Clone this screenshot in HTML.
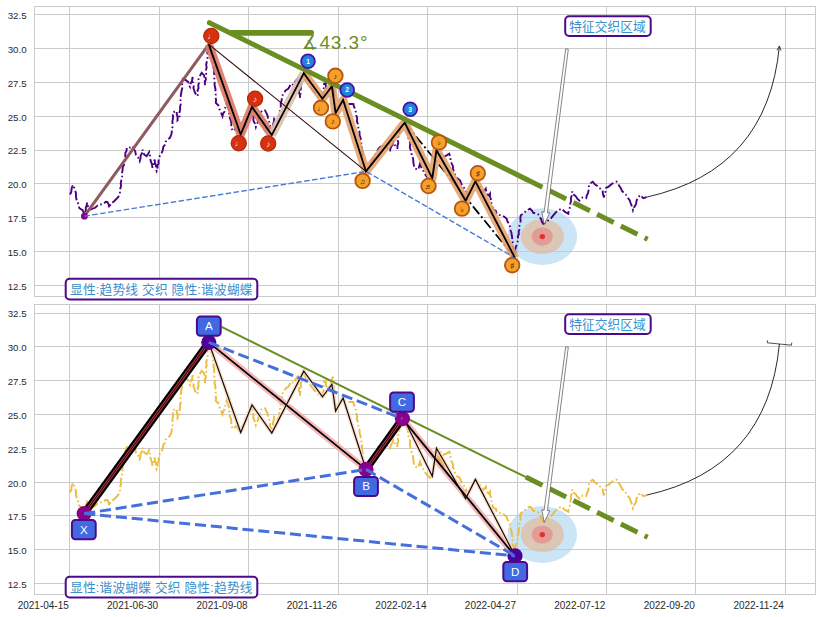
<!DOCTYPE html>
<html><head><meta charset="utf-8"><title>chart</title>
<style>html,body{margin:0;padding:0;background:#fff}svg{display:block}</style></head>
<body>
<svg width="822" height="617" viewBox="0 0 822 617">
<rect width="822" height="617" fill="#fff"/>
<g fill="none" stroke="#cbcbcb" stroke-width="1" shape-rendering="crispEdges">
<path d="M69.5 6.5V296.5M159.5 6.5V296.5M248.5 6.5V296.5M338.5 6.5V296.5M427.5 6.5V296.5M517.5 6.5V296.5M606.5 6.5V296.5M695.5 6.5V296.5M785.5 6.5V296.5M34.5 285.5H815.5M34.5 251.5H815.5M34.5 217.5H815.5M34.5 183.5H815.5M34.5 150H815.5M34.5 116.5H815.5M34.5 82.5H815.5M34.5 48.5H815.5M34.5 14.5H815.5"/>
<rect x="34.5" y="6.5" width="781" height="290" stroke-width="1"/>
</g>
<g font-family="'Liberation Sans', sans-serif" font-size="9.7px" fill="#2a2a2a" text-anchor="end">
<text x="26.6" y="289.9">12.5</text>
<text x="26.6" y="255.9">15.0</text>
<text x="26.6" y="221.9">17.5</text>
<text x="26.6" y="187.9">20.0</text>
<text x="26.6" y="154.4">22.5</text>
<text x="26.6" y="120.9">25.0</text>
<text x="26.6" y="86.9">27.5</text>
<text x="26.6" y="52.9">30.0</text>
<text x="26.6" y="18.9">32.5</text>
</g>
<ellipse cx="542.3" cy="236.6" rx="34.8" ry="28.3" fill="#a8d2f0" fill-opacity=".6"/>
<ellipse cx="542.3" cy="236.6" rx="21.6" ry="17.5" fill="#e8b48c" fill-opacity=".6"/>
<ellipse cx="542.3" cy="236.6" rx="10.6" ry="9.2" fill="#e87878" fill-opacity=".55"/>
<circle cx="542.3" cy="236.6" r="2.7" fill="#e03030"/>
<polyline points="70,194.5 71.3,192 71.7,188 73,185 74.2,187.5 75,190.3 76,193.1 75.9,196.6 76.7,200.3 77.9,202.1 78.3,205.3 79.4,208.2 82.6,210.2 84,213.1 84.4,216.2 84.7,212.9 85.8,210.5 85.8,207.7 86.7,205.4 87.1,202.7 88.2,206.6 90.2,209.7 95,207.8 97.3,205.7 100,204.5 103,204.1 105.8,201.7 107.5,202 108.8,204.9 109.2,207.8 110.8,203.7 113.5,201.8 115.8,199.5 118.3,197 119.6,194.7 120,192 120,189.5 121.1,185.8 120.7,183.6 121.3,180.3 122.2,177 121.9,173.7 122.5,170.3 122.8,167 123.9,165.3 124.2,162 124.5,158.8 125.4,156 125.3,153 126.6,150.7 126.7,147.8 130.3,147.5 132.8,146.3 133.4,148.9 135.2,151.1 135.8,154.5 138.3,157.8 139.7,161.2 140.6,158.2 140.6,155.4 142.1,152.9 142.5,149.5 143.1,152.5 144.2,154.5 146.7,156.2 149.2,152 149.9,155.5 150,158 150.8,161.2 151.9,164.2 152.5,167.8 153.4,165.2 153.7,162.2 154.7,159.5 154.9,163 156,165.3 155.7,168.1 156.7,171.2 157.7,169 157.4,165.4 158.6,163.8 158.5,160.8 159.2,157.8 160.1,154.9 161.7,152.8 162.7,150.5 163.3,147 165.1,144.7 165.7,141.7 167.5,139.5 170,137.8 171.3,134.5 171.8,132.1 171.7,128.8 172.6,126.8 172.5,123.7 172.4,121.2 173.1,117.4 172.8,114.8 173.3,112 176.7,111.2 176.7,114.1 177.6,116.8 177.5,120.3 179,118.7 179.7,115.3 179.5,112.5 180.2,109.1 180,107.1 180.7,104.4 180.3,101.1 181,98.4 180.8,95.3 181.7,90.3 182.5,87.2 181.9,84.8 183.1,82.2 182.9,79 185.8,80.2 188.3,82 188.8,85.2 190,87 190.5,83.8 192.1,80.6 192.5,77 193.1,79.7 192.8,82 193.9,85.4 193.4,88 194.2,90.3 195.5,93.7 197.5,96.2 198.2,93.1 197.6,90.2 198.6,88 198.2,85.4 199,82.7 198.5,79.4 199.2,77 201.7,72.8 204.2,75.3 204.2,78.9 205,81.6 205,85.3 204.8,82.3 205.9,79.4 205.2,76.2 206.2,74 205.6,71 206.6,68 206.2,64.5 206.7,62 207.5,59.1 207.5,55.3 207.3,52.2 208.4,49.9 208.2,46.8 208.8,44.4 209.3,47.5 210.5,50.1 210.7,53.7 212.1,55.3 212.5,58.7 212.5,61.3 213.8,64.5 213.5,67.8 214.2,70.3 214.1,73.1 214.6,76.2 214.3,78.3 214.9,81.5 214.5,84.4 215,87 215.6,90 214.9,92 215.7,94.5 215.4,97.5 216.1,99.8 215.8,102.8 218.3,105.3 219.3,109 220.8,112 222.5,116.2 223,113.7 224.5,111.7 225,108.7 225.7,106.1 226.7,102.8 228.3,107 229,109.5 228.9,112.9 230.1,114.9 229.8,118.1 230.8,120.3 231.4,123.2 231.2,126.2 231.7,128.7 233,131 236,128 238,131 240.8,134.5 241.5,131.2 243,128 244.9,125.9 246,122 248,118 248.7,115.1 250,112 251.4,110.2 252,107 252.1,109.6 252.9,112.5 252.4,114.6 253.5,117.1 253.3,120.3 254.8,123.3 255.8,127 256.7,124 258,122 258.6,118.6 260,115 260.9,112.1 262.7,110.2 265,110.3 266.7,113.7 267.7,116.1 268,119.2 269.2,122 270.2,124.9 270,128.2 271.3,130.8 271.7,134 271.7,130.5 273.1,128.5 272.9,124.8 273.9,121.9 274.2,118.7 276.7,120.3 278.2,124 278.3,120.4 279.6,118.2 279.2,115.2 280,112 280,109.1 280.9,106.1 280.7,103.4 281.8,99.9 281.7,97 283.3,93.7 285.8,90.3 288.3,88.7 289.7,86.3 290.8,83.7 294,85.2 295.3,81.5 297.5,78.7 297.6,81.6 298.7,83.7 298.1,86.5 299.2,89.3 298.9,92.3 299.9,95.1 300,97.8 300.6,94.6 300.1,91.7 300.8,89.2 300.8,86.2 301.5,82.8 301.3,79 302,76 303.8,73.1 304.5,76.9 306,80 308,84 311,88 314,92 317,95 320,98 322.5,99 322.4,96 323.6,92.8 323,90.2 324.2,86.9 324,84 325.8,82.8 325.8,86 326.7,89.5 329,90 331,86 331.6,81.7 333,78.7 332.8,81.4 333.7,84.6 333.4,87.5 334,90 333.9,93.1 334.6,95.4 334.2,99.1 335.3,101 334.7,104.7 335.5,107.4 335.2,109.7 335.6,113 337,108 340,104 343.1,100 345,103 348,104 351,104 353.4,104 354,106.8 355.3,109.2 355.8,112 356.1,114.8 357.2,118.3 356.8,120.8 358,124.4 358.3,127 358.4,129.6 359.6,132.2 359.5,135.2 360.5,137.8 360.8,140.3 361.4,142.9 361.1,145.7 362.1,147.9 361.8,150.6 362.5,153.7 363.3,156.6 362.8,159.6 363.9,162.2 364,165 365.3,168.3 365.7,171.4 368,168 369.9,166.2 371,163 372.1,160 374,158 375.1,154.8 377,152 378.4,148.7 380.5,146.6 384,146 386.7,147.8 390,150.3 390.9,147.2 392.5,144.5 393.3,142 394.4,144.8 396.3,146.6 397.5,148.7 397.4,145.9 398.3,142.9 397.8,140.4 398.3,137 398.8,133.6 400,130 400.8,127 402,124 404.7,122.6 406.1,125 407,128 407.3,131 408.3,133.8 408.2,137.4 409.2,140.3 410.2,143.5 409.8,147.3 410.8,150.3 411.6,153.2 411.6,155.9 413.1,158.5 413.3,162 413.9,165.5 415,168.7 418.3,169.5 419,166.9 420,163.7 421.2,167.2 423,170 424.2,173.1 425.8,175.3 428,178 430,180 432.2,178 432.3,175.5 433.2,172.4 433,169.7 433.9,167.9 434,165 435,162.4 434.8,159.5 436,155.9 435.5,152.9 436.5,150.2 440,152 441.1,154.7 443,157 446.7,155.3 449.2,153.7 450.5,157 450.5,161 451.7,163.7 452.9,165.9 453,169.4 454.2,172 455.3,175.1 456.7,177.8 460,180.3 461.4,184.1 463.3,187 465.8,190.3 466.7,193.4 468,196 470,192 471.9,189.4 473,186 475.3,181.5 478,184 479.9,186.8 481,190 483.3,192 485.8,188.7 486.2,191.9 487.4,194.2 487.5,197 490,193.7 490,196.7 490.9,199.3 490.8,202 492,203.9 492.5,207 493.5,210.2 495.7,210.5 496.7,213.7 499.1,214.9 501.7,215.3 504.3,216.7 506.7,218.7 507.6,221.8 509.2,224.1 510,227 510.2,229.6 511.4,232.7 511.7,235.3 512.2,237.6 511.9,240.9 513.1,243 512.7,245.9 513.3,248.7 514,251.8 513.5,254.7 514.4,257.8 514.3,255.4 515.4,252.3 515.2,250 515.8,247 516.8,244.7 517.5,242 518.3,239.3 517.8,236.2 518.8,234.4 518.7,231.3 519.7,229.2 519.4,225.9 520,223.7 520.7,220.8 520.3,218.3 520.8,215.3 524.2,212.8 526.7,210.3 530,208.7 532,210.6 533.3,212.8 535.9,213.4 538.3,214.5 539.3,217 541.2,219 541.8,221.5 543.3,223.7 546,222.4 548.3,220.3 551,218.2 553.3,215.3 555.6,212.6 558.3,210.3 561.7,208.7 565,212 568.3,213.7 568.7,210.5 570.1,206.9 570.3,203.6 571.1,200.7 570.9,197.9 572.1,194.9 572.2,191.5 573.7,194.6 575.8,196.3 577.5,198.9 579.5,200.6 582.5,197.5 586.2,198.2 586.8,195.6 588,193.2 588.6,190.2 588.9,186.5 589.8,183.6 592.8,181.7 594.7,184.2 597,185.7 598.9,187.8 602.6,190.2 603,194.4 604,197.5 604.3,194.2 605.7,191.4 606,187.8 608.7,186.6 612.3,183.6 616.6,181.7 619,185.4 620.8,188.2 622,190.9 625.7,194.5 628.1,198.2 629.8,200.5 630.6,203 632.2,206.8 633,210.3 634.2,207.2 636,204.2 636.6,200.6 637.9,197.5 640.3,195.1 643.3,198.2 646.7,197.1" fill="none" stroke="#4b0082" stroke-width="1.9" stroke-dasharray="9.6 2.6 1.6 2.6"/>
<line x1="84.4" y1="216.2" x2="208.8" y2="44.4" stroke="#8f5a60" stroke-width="3.05" stroke-linecap="round"/>
<circle cx="84.4" cy="216.2" r="3.4" fill="#8b008b"/>
<line x1="404.7" y1="122.6" x2="515" y2="257.9" stroke="#000" stroke-width="1.8" stroke-dasharray="10 3 2 3"/>
<polyline points="208.8,44.4 240.7,134.5 252,106.9 271.8,135.1" fill="none" stroke="#dc7a66" stroke-opacity=".92" stroke-width="8.5" stroke-linejoin="round" stroke-linecap="butt"/>
<polyline points="271.8,135.1 303.8,73.1" fill="none" stroke="#dcc0ac" stroke-opacity=".9" stroke-width="8.5" stroke-linejoin="round"/>
<polyline points="303.8,73.1 322.5,98.8 331.9,86.3 335.6,113.1 343.1,100 366,171.4 404.7,122.6 432.3,178.2 436.5,150.2 465.6,200.8 475.4,181.4 515,257.9" fill="none" stroke="#e5a26e" stroke-opacity=".9" stroke-width="8.5" stroke-linejoin="round"/>
<line x1="208.8" y1="44.4" x2="366" y2="171.4" stroke="#300808" stroke-width="1.1"/>
<polyline points="84.4,216.2 366,171.4 515,257.9" fill="none" stroke="#457ad0" stroke-width="1.35" stroke-dasharray="5.55 2.4"/>
<polyline points="208.8,44.4 240.7,134.5 252,106.9 271.8,135.1 303.8,73.1 322.5,98.8 331.9,86.3 335.6,113.1 343.1,100 366,171.4 404.7,122.6 432.3,178.2 436.5,150.2 465.6,200.8 475.4,181.4 515,257.9" fill="none" stroke="#000" stroke-width="1.8" stroke-linejoin="miter"/>
<line x1="209.4" y1="22.75" x2="527" y2="179.6" stroke="#6b8e23" stroke-width="5.1" stroke-linecap="round"/>
<line x1="525.8" y1="179.1" x2="647.6" y2="239.2" stroke="#6b8e23" stroke-width="5" stroke-dasharray="18.5 8"/>
<path d="M224.5 30L230.5 35.65H311.2A2.85 2.85 0 0 0 311.2 29.95H224.5z" fill="#6b8e23"/>
<text x="301.5" y="49.1" font-family="'Liberation Sans', 'DejaVu Sans', sans-serif" font-size="19px" fill="#6b8e23" textLength="66" lengthAdjust="spacing">∡43.3°</text>
<circle cx="211.3" cy="36" r="7.6" fill="#d7320f" stroke="#b02808" stroke-width="1.2"/>
<text x="211.3" y="39.1" font-family="'Liberation Sans', 'DejaVu Sans', sans-serif" font-size="8px" fill="#fff" text-anchor="middle">♩</text>
<circle cx="238.8" cy="143.3" r="7.6" fill="#d7320f" stroke="#b02808" stroke-width="1.2"/>
<text x="238.8" y="146.4" font-family="'Liberation Sans', 'DejaVu Sans', sans-serif" font-size="8px" fill="#fff" text-anchor="middle">♩</text>
<circle cx="255.1" cy="98.8" r="7.6" fill="#d7320f" stroke="#b02808" stroke-width="1.2"/>
<text x="255.1" y="101.9" font-family="'Liberation Sans', 'DejaVu Sans', sans-serif" font-size="8px" fill="#fff" text-anchor="middle">♪</text>
<circle cx="268.2" cy="143.5" r="7.6" fill="#d7320f" stroke="#b02808" stroke-width="1.2"/>
<text x="268.2" y="146.6" font-family="'Liberation Sans', 'DejaVu Sans', sans-serif" font-size="8px" fill="#fff" text-anchor="middle">♪</text>
<circle cx="308" cy="61.2" r="6.9" fill="#1e84de" stroke="#4a10a8" stroke-width="1.8"/>
<text x="308" y="63.6" font-family="'Liberation Sans', sans-serif" font-size="6.6px" font-weight="bold" fill="#fff" text-anchor="middle">1</text>
<circle cx="347.2" cy="90" r="6.9" fill="#1e84de" stroke="#4a10a8" stroke-width="1.8"/>
<text x="347.2" y="92.4" font-family="'Liberation Sans', sans-serif" font-size="6.6px" font-weight="bold" fill="#fff" text-anchor="middle">2</text>
<circle cx="410.2" cy="109.2" r="6.9" fill="#1e84de" stroke="#4a10a8" stroke-width="1.8"/>
<text x="410.2" y="111.6" font-family="'Liberation Sans', sans-serif" font-size="6.6px" font-weight="bold" fill="#fff" text-anchor="middle">3</text>
<circle cx="335.4" cy="75.8" r="7.3" fill="#f5a02c" stroke="#b8540c" stroke-width="1.8"/>
<text x="335.4" y="78.7" font-family="'Liberation Sans', 'DejaVu Sans', sans-serif" font-size="7.6px" fill="#3a1a00" text-anchor="middle">♪</text>
<circle cx="321" cy="107.8" r="7.3" fill="#f5a02c" stroke="#b8540c" stroke-width="1.8"/>
<text x="321" y="110.7" font-family="'Liberation Sans', 'DejaVu Sans', sans-serif" font-size="7.6px" fill="#3a1a00" text-anchor="middle">♩</text>
<circle cx="332.8" cy="121.4" r="7.3" fill="#f5a02c" stroke="#b8540c" stroke-width="1.8"/>
<text x="332.8" y="124.3" font-family="'Liberation Sans', 'DejaVu Sans', sans-serif" font-size="7.6px" fill="#3a1a00" text-anchor="middle">♪</text>
<circle cx="362.6" cy="180.9" r="7.3" fill="#f5a02c" stroke="#b8540c" stroke-width="1.8"/>
<text x="362.6" y="184.2" font-family="'Liberation Sans', 'DejaVu Sans', sans-serif" font-size="7.6px" fill="#3a1a00" text-anchor="middle">♫</text>
<circle cx="428.5" cy="186" r="7.3" fill="#f5a02c" stroke="#b8540c" stroke-width="1.8"/>
<text x="428.5" y="188.9" font-family="'Liberation Sans', 'DejaVu Sans', sans-serif" font-size="7.6px" fill="#3a1a00" text-anchor="middle">♬</text>
<circle cx="439" cy="142.4" r="7.3" fill="#f5a02c" stroke="#b8540c" stroke-width="1.8"/>
<text x="439" y="145.3" font-family="'Liberation Sans', 'DejaVu Sans', sans-serif" font-size="7.6px" fill="#3a1a00" text-anchor="middle">♭</text>
<circle cx="462" cy="208.6" r="7.3" fill="#f5a02c" stroke="#b8540c" stroke-width="1.8"/>
<text x="462" y="211.5" font-family="'Liberation Sans', 'DejaVu Sans', sans-serif" font-size="7.6px" fill="#3a1a00" text-anchor="middle">♭</text>
<circle cx="477.8" cy="173.2" r="7.3" fill="#f5a02c" stroke="#b8540c" stroke-width="1.8"/>
<text x="477.8" y="175.6" font-family="'Liberation Sans', 'DejaVu Sans', sans-serif" font-size="7.6px" fill="#3a1a00" text-anchor="middle">♯</text>
<circle cx="512.2" cy="265.2" r="7.3" fill="#f5a02c" stroke="#b8540c" stroke-width="1.8"/>
<text x="512.2" y="267.6" font-family="'Liberation Sans', 'DejaVu Sans', sans-serif" font-size="7.6px" fill="#3a1a00" text-anchor="middle">♯</text>
<path d="M646.7 197.1Q767.6 170.2 779.4 46" fill="none" stroke="#111" stroke-width=".9"/>
<path d="M781 50.7L779.4 46L777 50.3" fill="none" stroke="#222" stroke-width=".8"/>
<polygon points="565.7,48.8 544.1,212.3 541.8,211.7 544.2,224.4 549.8,212.7 547.4,212.7 568.3,49.2" fill="#fff" stroke="#444" stroke-width=".65" stroke-linejoin="round"/>
<rect x="565.2" y="16.3" width="85.5" height="19.7" rx="4" fill="#fff" stroke="#4b0a8c" stroke-width="2"/>
<text x="569.2" y="30.9" font-family="'Liberation Sans', 'Noto Sans CJK SC', sans-serif" font-size="12.7px" fill="#3b8fcb" textLength="76.6" lengthAdjust="spacing">特征交织区域</text>
<rect x="65.7" y="278.8" width="191.6" height="20.7" rx="4" fill="#fff" stroke="#4b0a8c" stroke-width="2"/>
<text x="70" y="294" font-family="'Liberation Sans', 'Noto Sans CJK SC', sans-serif" font-size="12.7px" fill="#3b8fcb" textLength="182.5" lengthAdjust="spacing" xml:space="preserve">显性:趋势线 交织 隐性:谐波蝴蝶</text>
<g fill="none" stroke="#cbcbcb" stroke-width="1" shape-rendering="crispEdges">
<path d="M69.5 304.5V594.5M159.5 304.5V594.5M248.5 304.5V594.5M338.5 304.5V594.5M427.5 304.5V594.5M517.5 304.5V594.5M606.5 304.5V594.5M695.5 304.5V594.5M785.5 304.5V594.5M34.5 583.5H815.5M34.5 549.5H815.5M34.5 515.5H815.5M34.5 482.5H815.5M34.5 448.5H815.5M34.5 414.5H815.5M34.5 380.5H815.5M34.5 346.5H815.5M34.5 313H815.5"/>
<rect x="34.5" y="304.5" width="781" height="290" stroke-width="1"/>
</g>
<g font-family="'Liberation Sans', sans-serif" font-size="9.7px" fill="#2a2a2a" text-anchor="end">
<text x="26.6" y="587.9">12.5</text>
<text x="26.6" y="553.9">15.0</text>
<text x="26.6" y="519.9">17.5</text>
<text x="26.6" y="486.9">20.0</text>
<text x="26.6" y="452.9">22.5</text>
<text x="26.6" y="418.9">25.0</text>
<text x="26.6" y="384.9">27.5</text>
<text x="26.6" y="350.9">30.0</text>
<text x="26.6" y="317.4">32.5</text>
</g>
<g font-family="'Liberation Sans', sans-serif" font-size="10px" fill="#2a2a2a" text-anchor="end">
<text x="68.8" y="608.9">2021-04-15</text>
<text x="158.2" y="608.9">2021-06-30</text>
<text x="247.7" y="608.9">2021-09-08</text>
<text x="337.1" y="608.9">2021-11-26</text>
<text x="426.5" y="608.9">2022-02-14</text>
<text x="516" y="608.9">2022-04-27</text>
<text x="605.4" y="608.9">2022-07-12</text>
<text x="694.8" y="608.9">2022-09-20</text>
<text x="783.8" y="608.9">2022-11-24</text>
</g>
<ellipse cx="542.3" cy="534.6" rx="34.8" ry="28.3" fill="#a8d2f0" fill-opacity=".6"/>
<ellipse cx="542.3" cy="534.6" rx="21.6" ry="17.5" fill="#e8b48c" fill-opacity=".6"/>
<ellipse cx="542.3" cy="534.6" rx="10.6" ry="9.2" fill="#e87878" fill-opacity=".55"/>
<circle cx="542.3" cy="534.6" r="2.7" fill="#e03030"/>
<polyline points="70,492.5 71.3,490 71.7,486 73,483 74.2,485.5 75,488.3 76,491.1 75.9,494.6 76.7,498.3 77.9,500.1 78.3,503.3 79.4,506.2 82.6,508.2 84,511.1 84.4,514.2 84.7,510.9 85.8,508.5 85.8,505.7 86.7,503.4 87.1,500.7 88.2,504.6 90.2,507.7 95,505.8 97.3,503.7 100,502.5 103,502.1 105.8,499.7 107.5,500 108.8,502.9 109.2,505.8 110.8,501.7 113.5,499.8 115.8,497.5 118.3,495 119.6,492.7 120,490 120,487.5 121.1,483.8 120.7,481.6 121.3,478.3 122.2,475 121.9,471.7 122.5,468.3 122.8,465 123.9,463.3 124.2,460 124.5,456.8 125.4,454 125.3,451 126.6,448.7 126.7,445.8 130.3,445.5 132.8,444.3 133.4,446.9 135.2,449.1 135.8,452.5 138.3,455.8 139.7,459.2 140.6,456.2 140.6,453.4 142.1,450.9 142.5,447.5 143.1,450.5 144.2,452.5 146.7,454.2 149.2,450 149.9,453.5 150,456 150.8,459.2 151.9,462.2 152.5,465.8 153.4,463.2 153.7,460.2 154.7,457.5 154.9,461 156,463.3 155.7,466.1 156.7,469.2 157.7,467 157.4,463.4 158.6,461.8 158.5,458.8 159.2,455.8 160.1,452.9 161.7,450.8 162.7,448.5 163.3,445 165.1,442.7 165.7,439.7 167.5,437.5 170,435.8 171.3,432.5 171.8,430.1 171.7,426.8 172.6,424.8 172.5,421.7 172.4,419.2 173.1,415.4 172.8,412.8 173.3,410 176.7,409.2 176.7,412.1 177.6,414.8 177.5,418.3 179,416.7 179.7,413.3 179.5,410.5 180.2,407.1 180,405.1 180.7,402.4 180.3,399.1 181,396.4 180.8,393.3 181.7,388.3 182.5,385.2 181.9,382.8 183.1,380.2 182.9,377 185.8,378.2 188.3,380 188.8,383.2 190,385 190.5,381.8 192.1,378.6 192.5,375 193.1,377.7 192.8,380 193.9,383.4 193.4,386 194.2,388.3 195.5,391.7 197.5,394.2 198.2,391.1 197.6,388.2 198.6,386 198.2,383.4 199,380.7 198.5,377.4 199.2,375 201.7,370.8 204.2,373.3 204.2,376.9 205,379.6 205,383.3 204.8,380.3 205.9,377.4 205.2,374.2 206.2,372 205.6,369 206.6,366 206.2,362.5 206.7,360 207.5,357.1 207.5,353.3 207.3,350.2 208.4,347.9 208.2,344.8 208.8,342.4 209.3,345.5 210.5,348.1 210.7,351.7 212.1,353.3 212.5,356.7 212.5,359.3 213.8,362.5 213.5,365.8 214.2,368.3 214.1,371.1 214.6,374.2 214.3,376.3 214.9,379.5 214.5,382.4 215,385 215.6,388 214.9,390 215.7,392.5 215.4,395.5 216.1,397.8 215.8,400.8 218.3,403.3 219.3,407 220.8,410 222.5,414.2 223,411.7 224.5,409.7 225,406.7 225.7,404.1 226.7,400.8 228.3,405 229,407.5 228.9,410.9 230.1,412.9 229.8,416.1 230.8,418.3 231.4,421.2 231.2,424.2 231.7,426.7 233,429 236,426 238,429 240.8,432.5 241.5,429.2 243,426 244.9,423.9 246,420 248,416 248.7,413.1 250,410 251.4,408.2 252,405 252.1,407.6 252.9,410.5 252.4,412.6 253.5,415.1 253.3,418.3 254.8,421.3 255.8,425 256.7,422 258,420 258.6,416.6 260,413 260.9,410.1 262.7,408.2 265,408.3 266.7,411.7 267.7,414.1 268,417.2 269.2,420 270.2,422.9 270,426.2 271.3,428.8 271.7,432 271.7,428.5 273.1,426.5 272.9,422.8 273.9,419.9 274.2,416.7 276.7,418.3 278.2,422 278.3,418.4 279.6,416.2 279.2,413.2 280,410 280,407.1 280.9,404.1 280.7,401.4 281.8,397.9 281.7,395 283.3,391.7 285.8,388.3 288.3,386.7 289.7,384.3 290.8,381.7 294,383.2 295.3,379.5 297.5,376.7 297.6,379.6 298.7,381.7 298.1,384.5 299.2,387.3 298.9,390.3 299.9,393.1 300,395.8 300.6,392.6 300.1,389.7 300.8,387.2 300.8,384.2 301.5,380.8 301.3,377 302,374 303.8,371.1 304.5,374.9 306,378 308,382 311,386 314,390 317,393 320,396 322.5,397 322.4,394 323.6,390.8 323,388.2 324.2,384.9 324,382 325.8,380.8 325.8,384 326.7,387.5 329,388 331,384 331.6,379.7 333,376.7 332.8,379.4 333.7,382.6 333.4,385.5 334,388 333.9,391.1 334.6,393.4 334.2,397.1 335.3,399 334.7,402.7 335.5,405.4 335.2,407.7 335.6,411 337,406 340,402 343.1,398 345,401 348,402 351,402 353.4,402 354,404.8 355.3,407.2 355.8,410 356.1,412.8 357.2,416.3 356.8,418.8 358,422.4 358.3,425 358.4,427.6 359.6,430.2 359.5,433.2 360.5,435.8 360.8,438.3 361.4,440.9 361.1,443.7 362.1,445.9 361.8,448.6 362.5,451.7 363.3,454.6 362.8,457.6 363.9,460.2 364,463 365.3,466.3 365.7,469.4 368,466 369.9,464.2 371,461 372.1,458 374,456 375.1,452.8 377,450 378.4,446.7 380.5,444.6 384,444 386.7,445.8 390,448.3 390.9,445.2 392.5,442.5 393.3,440 394.4,442.8 396.3,444.6 397.5,446.7 397.4,443.9 398.3,440.9 397.8,438.4 398.3,435 398.8,431.6 400,428 400.8,425 402,422 404.7,420.6 406.1,423 407,426 407.3,429 408.3,431.8 408.2,435.4 409.2,438.3 410.2,441.5 409.8,445.3 410.8,448.3 411.6,451.2 411.6,453.9 413.1,456.5 413.3,460 413.9,463.5 415,466.7 418.3,467.5 419,464.9 420,461.7 421.2,465.2 423,468 424.2,471.1 425.8,473.3 428,476 430,478 432.2,476 432.3,473.5 433.2,470.4 433,467.7 433.9,465.9 434,463 435,460.4 434.8,457.5 436,453.9 435.5,450.9 436.5,448.2 440,450 441.1,452.7 443,455 446.7,453.3 449.2,451.7 450.5,455 450.5,459 451.7,461.7 452.9,463.9 453,467.4 454.2,470 455.3,473.1 456.7,475.8 460,478.3 461.4,482.1 463.3,485 465.8,488.3 466.7,491.4 468,494 470,490 471.9,487.4 473,484 475.3,479.5 478,482 479.9,484.8 481,488 483.3,490 485.8,486.7 486.2,489.9 487.4,492.2 487.5,495 490,491.7 490,494.7 490.9,497.3 490.8,500 492,501.9 492.5,505 493.5,508.2 495.7,508.5 496.7,511.7 499.1,512.9 501.7,513.3 504.3,514.7 506.7,516.7 507.6,519.8 509.2,522.1 510,525 510.2,527.6 511.4,530.7 511.7,533.3 512.2,535.6 511.9,538.9 513.1,541 512.7,543.9 513.3,546.7 514,549.8 513.5,552.7 514.4,555.8 514.3,553.4 515.4,550.3 515.2,548 515.8,545 516.8,542.7 517.5,540 518.3,537.3 517.8,534.2 518.8,532.4 518.7,529.3 519.7,527.2 519.4,523.9 520,521.7 520.7,518.8 520.3,516.3 520.8,513.3 524.2,510.8 526.7,508.3 530,506.7 532,508.6 533.3,510.8 535.9,511.4 538.3,512.5 539.3,515 541.2,517 541.8,519.5 543.3,521.7 546,520.4 548.3,518.3 551,516.2 553.3,513.3 555.6,510.6 558.3,508.3 561.7,506.7 565,510 568.3,511.7 568.7,508.5 570.1,504.9 570.3,501.6 571.1,498.7 570.9,495.9 572.1,492.9 572.2,489.5 573.7,492.6 575.8,494.3 577.5,496.9 579.5,498.6 582.5,495.5 586.2,496.2 586.8,493.6 588,491.2 588.6,488.2 588.9,484.5 589.8,481.6 592.8,479.7 594.7,482.2 597,483.7 598.9,485.8 602.6,488.2 603,492.4 604,495.5 604.3,492.2 605.7,489.4 606,485.8 608.7,484.6 612.3,481.6 616.6,479.7 619,483.4 620.8,486.2 622,488.9 625.7,492.5 628.1,496.2 629.8,498.5 630.6,501 632.2,504.8 633,508.3 634.2,505.2 636,502.2 636.6,498.6 637.9,495.5 640.3,493.1 643.3,496.2 646.7,495.1" fill="none" stroke="#ecbd40" stroke-width="1.95" stroke-dasharray="9.6 2.6 1.6 2.6"/>
<line x1="221.6" y1="326.8" x2="526" y2="477.2" stroke="#6b8e23" stroke-width="2"/>
<line x1="525.8" y1="477.1" x2="647.6" y2="537.2" stroke="#6b8e23" stroke-width="5" stroke-dasharray="18.5 8"/>
<line x1="208.8" y1="342.4" x2="366" y2="469.4" stroke="#f5b0b0" stroke-opacity=".9" stroke-width="6.5" stroke-linecap="butt"/>
<line x1="402.4" y1="418.6" x2="515" y2="555.9" stroke="#f5b0b0" stroke-opacity=".9" stroke-width="6.5" stroke-linecap="butt"/>
<polygon points="435,458.3 436.5,448.2 447.5,467.3 442,466.8" fill="#f5a040" fill-opacity=".85"/>
<polyline points="208.8,342.4 240.7,432.5 252,404.9 271.8,433.1 303.8,371.1 322.5,396.8 331.9,384.3 335.6,411.1 343.1,398 366,469.4 404.7,420.6 432.3,476.2 436.5,448.2 465.6,498.8 475.4,479.4 515,555.9" fill="none" stroke="#f8d8c0" stroke-opacity=".8" stroke-width="4" stroke-linejoin="round"/>
<polyline points="208.8,342.4 240.7,432.5 252,404.9 271.8,433.1 303.8,371.1 322.5,396.8 331.9,384.3 335.6,411.1 343.1,398 366,469.4 404.7,420.6 432.3,476.2 436.5,448.2 465.6,498.8 475.4,479.4 515,555.9" fill="none" stroke="#12060c" stroke-width="1.2" stroke-linejoin="miter"/>
<line x1="208.8" y1="342.4" x2="366" y2="469.4" stroke="#000" stroke-width="1.8"/>
<line x1="402.4" y1="418.6" x2="515" y2="555.9" stroke="#000" stroke-width="1.8"/>
<line x1="84.2" y1="513.6" x2="208.8" y2="342.4" stroke="#000" stroke-width="7.4" stroke-linecap="butt"/>
<line x1="84.2" y1="513.6" x2="208.8" y2="342.4" stroke="#b83444" stroke-width="2.8"/>
<line x1="84.2" y1="513.6" x2="208.8" y2="342.4" stroke="#200" stroke-width="1"/>
<line x1="366" y1="469.4" x2="402.4" y2="418.6" stroke="#000" stroke-width="7.4" stroke-linecap="butt"/>
<line x1="366" y1="469.4" x2="402.4" y2="418.6" stroke="#b83444" stroke-width="2.8"/>
<line x1="366" y1="469.4" x2="402.4" y2="418.6" stroke="#200" stroke-width="1"/>
<circle cx="84.2" cy="513.6" r="7.6" fill="#8b008b"/>
<circle cx="208.8" cy="342.4" r="7.6" fill="#50009a"/>
<circle cx="366" cy="469.4" r="7.6" fill="#8b008b"/>
<circle cx="402.4" cy="418.6" r="7.6" fill="#8b008b"/>
<circle cx="515" cy="555.9" r="7.6" fill="#50009a"/>
<line x1="208.8" y1="342.4" x2="402.4" y2="418.6" stroke="#4570dc" stroke-width="3" stroke-dasharray="11.1 4.8"/>
<line x1="84.2" y1="513.6" x2="366" y2="469.4" stroke="#4570dc" stroke-width="3" stroke-dasharray="11.1 4.8"/>
<line x1="84.2" y1="513.6" x2="515" y2="555.9" stroke="#4570dc" stroke-width="3" stroke-dasharray="11.1 4.8"/>
<line x1="366" y1="469.4" x2="515" y2="555.9" stroke="#4570dc" stroke-width="3" stroke-dasharray="11.1 4.8"/>
<rect x="71.9" y="520" width="23.8" height="19.2" rx="3.5" fill="#4169e1" stroke="#4b0a8c" stroke-width="2"/>
<text x="83.8" y="533.5" font-family="'Liberation Sans', sans-serif" font-size="11.6px" fill="#fff" text-anchor="middle">X</text>
<rect x="196.9" y="316.6" width="23.8" height="19.2" rx="3.5" fill="#4169e1" stroke="#4b0a8c" stroke-width="2"/>
<text x="208.8" y="330.1" font-family="'Liberation Sans', sans-serif" font-size="11.6px" fill="#fff" text-anchor="middle">A</text>
<rect x="354.1" y="476.9" width="23.8" height="19.2" rx="3.5" fill="#4169e1" stroke="#4b0a8c" stroke-width="2"/>
<text x="366" y="490.4" font-family="'Liberation Sans', sans-serif" font-size="11.6px" fill="#fff" text-anchor="middle">B</text>
<rect x="390.1" y="392.5" width="23.8" height="19.2" rx="3.5" fill="#4169e1" stroke="#4b0a8c" stroke-width="2"/>
<text x="402" y="406" font-family="'Liberation Sans', sans-serif" font-size="11.6px" fill="#fff" text-anchor="middle">C</text>
<rect x="503.3" y="562" width="23.8" height="19.2" rx="3.5" fill="#4169e1" stroke="#4b0a8c" stroke-width="2"/>
<text x="515.2" y="575.5" font-family="'Liberation Sans', sans-serif" font-size="11.6px" fill="#fff" text-anchor="middle">D</text>
<path d="M646.7 495.1Q767.6 468.2 779.4 344" fill="none" stroke="#111" stroke-width=".9"/>
<path d="M791.8 342.6L791.5 345.2L767.3 342.8L767.5 340.3" fill="none" stroke="#222" stroke-width=".8"/>
<polygon points="565.7,346.8 544.1,510.3 541.8,509.7 544.2,522.4 549.8,510.7 547.4,510.7 568.3,347.2" fill="#fff" stroke="#444" stroke-width=".65" stroke-linejoin="round"/>
<rect x="565.2" y="314.3" width="85.5" height="19.7" rx="4" fill="#fff" stroke="#4b0a8c" stroke-width="2"/>
<text x="569.2" y="328.9" font-family="'Liberation Sans', 'Noto Sans CJK SC', sans-serif" font-size="12.7px" fill="#3b8fcb" textLength="76.6" lengthAdjust="spacing">特征交织区域</text>
<rect x="65.7" y="576.8" width="191.6" height="20.7" rx="4" fill="#fff" stroke="#4b0a8c" stroke-width="2"/>
<text x="70" y="592" font-family="'Liberation Sans', 'Noto Sans CJK SC', sans-serif" font-size="12.7px" fill="#3b8fcb" textLength="182.5" lengthAdjust="spacing" xml:space="preserve">显性:谐波蝴蝶 交织 隐性:趋势线</text>
</svg>
</body></html>
